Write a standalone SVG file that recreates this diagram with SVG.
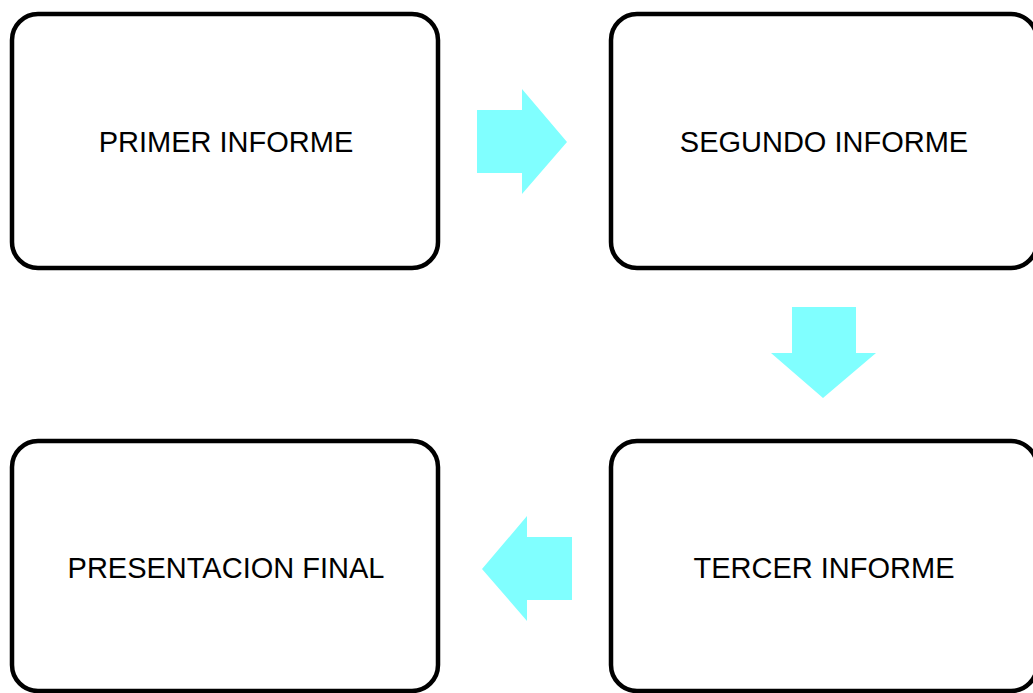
<svg xmlns="http://www.w3.org/2000/svg" width="1033" height="693" viewBox="0 0 1033 693">
<style>
.box{fill:#fff;stroke:#000;stroke-width:4.5}
.lbl{font-family:"Liberation Sans",Arial,sans-serif;font-size:29px;fill:#000;text-anchor:middle}
.arr{fill:#80FFFF;stroke:none}
</style>
<rect width="1033" height="693" fill="#fff"/>
<g id="n1"><rect class="box" x="12" y="14" width="426" height="254" rx="26"/><text class="lbl" x="226" y="152">PRIMER INFORME</text></g>
<g id="n2"><rect class="box" x="611" y="14" width="426" height="254" rx="26"/><text class="lbl" x="824" y="152">SEGUNDO INFORME</text></g>
<g id="n3"><rect class="box" x="611" y="441" width="426" height="250" rx="26"/><text class="lbl" x="824" y="578">TERCER INFORME</text></g>
<g id="n4"><rect class="box" x="12" y="441" width="426" height="250" rx="26"/><text class="lbl" x="226" y="578">PRESENTACION FINAL</text></g>
<g id="connectors">
<polygon class="arr" points="477,110 522,110 522,89 567,142 522,194 522,173 477,173"/>
<polygon class="arr" points="792,307 856,307 856,353 876,353 823,398 771,353 792,353"/>
<polygon class="arr" points="572,537 527,537 527,516 482,569 527,621 527,600 572,600"/>
</g>
</svg>
